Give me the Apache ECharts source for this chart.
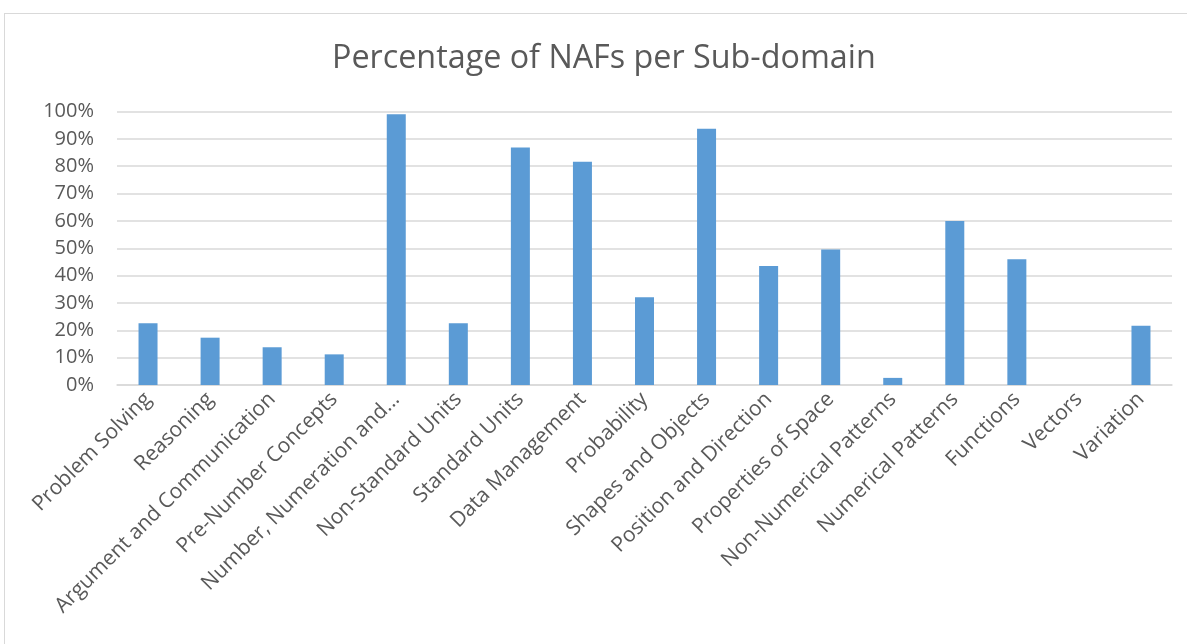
<!DOCTYPE html>
<html>
<head>
<meta charset="utf-8">
<script src="https://cdn.jsdelivr.net/npm/echarts@6/dist/echarts.min.js"></script>
<style>
  html, body { margin: 0; padding: 0; background: #fff; }
  #frame { position: absolute; left: 4px; top: 13px; width: 1190px; height: 640px; border: 1px solid #d9d9d9; box-sizing: border-box; }
  #chart { position: absolute; left: 0; top: 0; width: 1187px; height: 644px; }
</style>
</head>
<body>
<div id="frame"></div>
<div id="chart"></div>
<script>
    var subDomains = ['Problem Solving', 'Reasoning', 'Argument and Communication', 'Pre-Number Concepts',
        'Number, Numeration and...', 'Non-Standard Units', 'Standard Units', 'Data Management', 'Probability',
        'Shapes and Objects', 'Position and Direction', 'Properties of Space', 'Non-Numerical Patterns',
        'Numerical Patterns', 'Functions', 'Vectors', 'Variation'];
    var percents = [22.6, 17.3, 13.8, 11.2, 99.0, 22.6, 86.8, 81.6, 32.1, 93.7, 43.5, 49.5, 2.6, 60.0, 46.0, 0, 21.7];
    var yTicks = [0, 10, 20, 30, 40, 50, 60, 70, 80, 90, 100];

    var myChart = echarts.init(document.getElementById('chart'));
    var option = {
        animation: false,
        title: {
            text: 'Percentage of NAFs per Sub-domain',
            left: 327,
            top: 38,
            textStyle: { fontFamily: 'Open Sans', fontSize: 32.3, fontWeight: 'normal', color: '#595959' }
        },
        grid: { left: 117, right: 15, top: 111.5, bottom: 259, containLabel: false },
        xAxis: {
            type: 'category',
            data: subDomains,
            axisLine: { lineStyle: { color: '#d9d9d9', width: 1.5 } },
            axisTick: { show: false },
            axisLabel: {
                interval: 0,
                rotate: 45,
                margin: 11,
                fontFamily: 'Open Sans',
                fontSize: 21,
                color: '#595959'
            }
        },
        yAxis: {
            type: 'value',
            min: yTicks[0],
            max: yTicks[yTicks.length - 1],
            interval: 10,
            axisLine: { show: false },
            axisTick: { show: false },
            splitLine: { lineStyle: { color: '#d9d9d9', width: 1.5 } },
            axisLabel: {
                formatter: '{value}%',
                margin: 23,
                fontFamily: 'Open Sans',
                fontSize: 20,
                color: '#595959'
            }
        },
        series: [{
            type: 'bar',
            data: percents,
            barWidth: 19,
            itemStyle: { color: '#5b9bd5' }
        }]
    };
    myChart.setOption(option);
</script>
</body>
</html>
